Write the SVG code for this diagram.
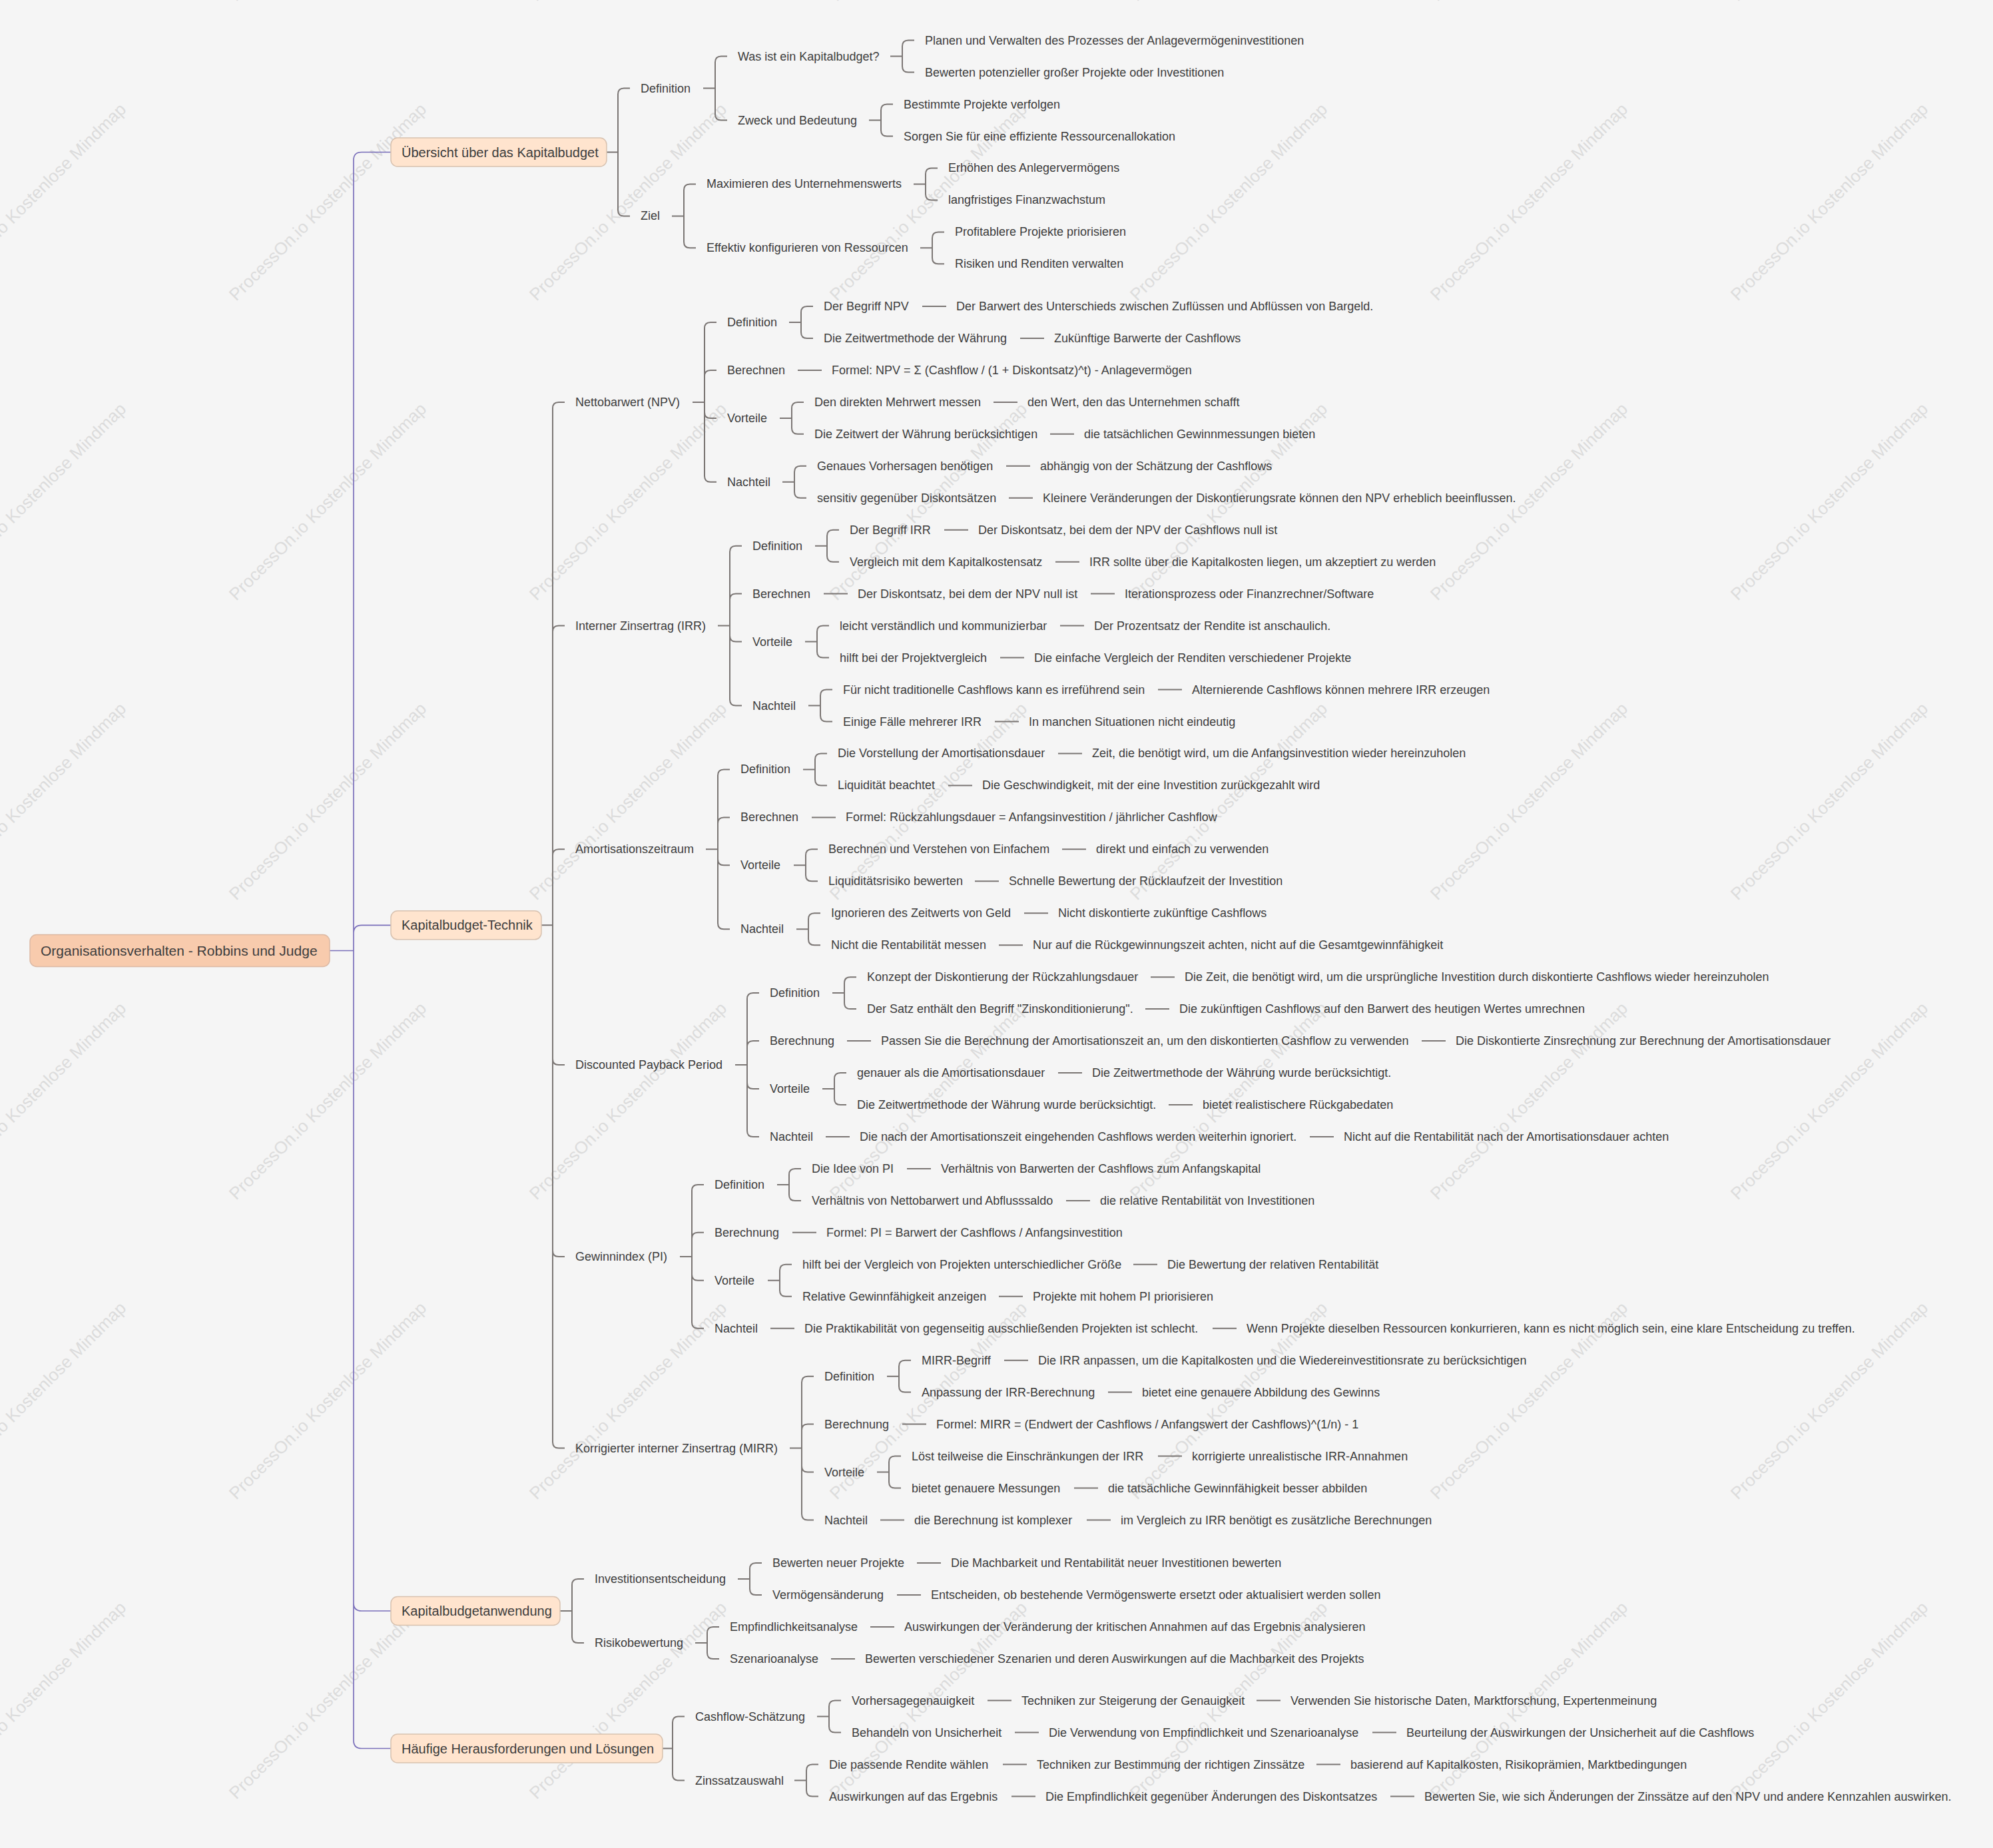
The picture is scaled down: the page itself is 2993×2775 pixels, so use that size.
<svg xmlns="http://www.w3.org/2000/svg" xmlns:xlink="http://www.w3.org/1999/xlink" width="2993" height="2775" viewBox="0 0 2993 2775">
<style>
text{font-family:"Liberation Sans",Arial,sans-serif;font-size:18px;fill:#3d3d3d}
.l1{font-size:20px}
.root{font-size:21px}
.wm{font-size:26px;fill:#dcdcdc}
.c{fill:none;stroke:#7b7674;stroke-width:2}
.p{fill:none;stroke:#7a6fba;stroke-width:1.7}
.b1{fill:#ffe4ce;stroke:#d8c2b0;stroke-width:1.5}
.b0{fill:#f8cbad;stroke:#dcb9a4;stroke-width:1.5}
</style>
<defs>
<text id="wm" class="wm" transform="rotate(-45)" text-anchor="middle" dominant-baseline="central">ProcessOn.io Kostenlose Mindmap</text>
</defs>
<rect x="0" y="0" width="2993" height="2775" fill="#f5f5f5"/>
<g id="watermark">
<use xlink:href="#wm" x="41" y="-147"/><use xlink:href="#wm" x="492" y="-147"/><use xlink:href="#wm" x="943" y="-147"/><use xlink:href="#wm" x="1394" y="-147"/><use xlink:href="#wm" x="1845" y="-147"/><use xlink:href="#wm" x="2296" y="-147"/><use xlink:href="#wm" x="2747" y="-147"/>
<use xlink:href="#wm" x="41" y="303"/><use xlink:href="#wm" x="492" y="303"/><use xlink:href="#wm" x="943" y="303"/><use xlink:href="#wm" x="1394" y="303"/><use xlink:href="#wm" x="1845" y="303"/><use xlink:href="#wm" x="2296" y="303"/><use xlink:href="#wm" x="2747" y="303"/>
<use xlink:href="#wm" x="41" y="753"/><use xlink:href="#wm" x="492" y="753"/><use xlink:href="#wm" x="943" y="753"/><use xlink:href="#wm" x="1394" y="753"/><use xlink:href="#wm" x="1845" y="753"/><use xlink:href="#wm" x="2296" y="753"/><use xlink:href="#wm" x="2747" y="753"/>
<use xlink:href="#wm" x="41" y="1203"/><use xlink:href="#wm" x="492" y="1203"/><use xlink:href="#wm" x="943" y="1203"/><use xlink:href="#wm" x="1394" y="1203"/><use xlink:href="#wm" x="1845" y="1203"/><use xlink:href="#wm" x="2296" y="1203"/><use xlink:href="#wm" x="2747" y="1203"/>
<use xlink:href="#wm" x="41" y="1653"/><use xlink:href="#wm" x="492" y="1653"/><use xlink:href="#wm" x="943" y="1653"/><use xlink:href="#wm" x="1394" y="1653"/><use xlink:href="#wm" x="1845" y="1653"/><use xlink:href="#wm" x="2296" y="1653"/><use xlink:href="#wm" x="2747" y="1653"/>
<use xlink:href="#wm" x="41" y="2103"/><use xlink:href="#wm" x="492" y="2103"/><use xlink:href="#wm" x="943" y="2103"/><use xlink:href="#wm" x="1394" y="2103"/><use xlink:href="#wm" x="1845" y="2103"/><use xlink:href="#wm" x="2296" y="2103"/><use xlink:href="#wm" x="2747" y="2103"/>
<use xlink:href="#wm" x="41" y="2553"/><use xlink:href="#wm" x="492" y="2553"/><use xlink:href="#wm" x="943" y="2553"/><use xlink:href="#wm" x="1394" y="2553"/><use xlink:href="#wm" x="1845" y="2553"/><use xlink:href="#wm" x="2296" y="2553"/><use xlink:href="#wm" x="2747" y="2553"/>
</g>
<g id="connectors">
<path class="p" d="M495 1427.5 H531 M531 1427.5 V240.5 Q531 228.5 543 228.5 H587 M531 1427.5 V1401.3 Q531 1389.3 543 1389.3 H587 M531 1427.5 V2407 Q531 2419 543 2419 H587 M531 1427.5 V2613.5 Q531 2625.5 543 2625.5 H587"/>
<path class="c" d="M911 228.5 H928 M928 228.5 V141.5 Q928 132.5 937 132.5 H946 M928 228.5 V315.4 Q928 324.4 937 324.4 H946
M1056 132.5 H1074 M1074 132.5 V93.6 Q1074 84.6 1083 84.6 H1092 M1074 132.5 V171.5 Q1074 180.5 1083 180.5 H1092
M1337 84.6 H1355 M1355 84.6 V69.6 Q1355 60.6 1364 60.6 H1373 M1355 84.6 V99.6 Q1355 108.6 1364 108.6 H1373
M1305 180.5 H1323 M1323 180.5 V165.5 Q1323 156.5 1332 156.5 H1341 M1323 180.5 V195.5 Q1323 204.5 1332 204.5 H1341
M1009 324.4 H1027 M1027 324.4 V285.4 Q1027 276.4 1036 276.4 H1045 M1027 324.4 V363.3 Q1027 372.3 1036 372.3 H1045
M1372 276.4 H1390 M1390 276.4 V261.4 Q1390 252.4 1399 252.4 H1408 M1390 276.4 V291.4 Q1390 300.4 1399 300.4 H1408
M1382 372.3 H1400 M1400 372.3 V357.4 Q1400 348.4 1409 348.4 H1418 M1400 372.3 V387.3 Q1400 396.3 1409 396.3 H1418"/>
<path class="c" d="M813 1389.3 H830 M830 1389.3 V612.9 Q830 603.9 839 603.9 H848 M830 1389.3 V948.6 Q830 939.6 839 939.6 H848 M830 1389.3 V1284.3 Q830 1275.3 839 1275.3 H848 M830 1389.3 V1590.1 Q830 1599.1 839 1599.1 H848 M830 1389.3 V1877.9 Q830 1886.9 839 1886.9 H848 M830 1389.3 V2165.6 Q830 2174.6 839 2174.6 H848"/>
<path class="c" d="M1040 603.9 H1058 M1058 603.9 V493 Q1058 484 1067 484 H1076 M1058 603.9 V564.9 Q1058 555.9 1067 555.9 H1076 M1058 603.9 V618.9 Q1058 627.9 1067 627.9 H1076 M1058 603.9 V714.8 Q1058 723.8 1067 723.8 H1076
M1185 484 H1203 M1203 484 V469 Q1203 460 1212 460 H1221 M1203 484 V499 Q1203 508 1212 508 H1221
M1385 460 H1421 M1532 508 H1568 M1198 555.9 H1234
M1171 627.9 H1189 M1189 627.9 V612.9 Q1189 603.9 1198 603.9 H1207 M1189 627.9 V642.8 Q1189 651.8 1198 651.8 H1207
M1492 603.9 H1528 M1577 651.8 H1613
M1175 723.8 H1193 M1193 723.8 V708.8 Q1193 699.8 1202 699.8 H1211 M1193 723.8 V738.8 Q1193 747.8 1202 747.8 H1211
M1511 699.8 H1547 M1515 747.8 H1551"/>
<path class="c" d="M1078 939.6 H1096 M1096 939.6 V828.7 Q1096 819.7 1105 819.7 H1114 M1096 939.6 V900.6 Q1096 891.6 1105 891.6 H1114 M1096 939.6 V954.6 Q1096 963.6 1105 963.6 H1114 M1096 939.6 V1050.5 Q1096 1059.5 1105 1059.5 H1114
M1224 819.7 H1242 M1242 819.7 V804.7 Q1242 795.7 1251 795.7 H1260 M1242 819.7 V834.7 Q1242 843.7 1251 843.7 H1260
M1418 795.7 H1454 M1585 843.7 H1621 M1237 891.6 H1273 M1638 891.6 H1674
M1209 963.6 H1227 M1227 963.6 V948.6 Q1227 939.6 1236 939.6 H1245 M1227 963.6 V978.6 Q1227 987.6 1236 987.6 H1245
M1592 939.6 H1628 M1502 987.6 H1538
M1214 1059.5 H1232 M1232 1059.5 V1044.5 Q1232 1035.5 1241 1035.5 H1250 M1232 1059.5 V1074.5 Q1232 1083.5 1241 1083.5 H1250
M1739 1035.5 H1775 M1494 1083.5 H1530"/>
<path class="c" d="M1060 1275.3 H1078 M1078 1275.3 V1164.4 Q1078 1155.4 1087 1155.4 H1096 M1078 1275.3 V1236.4 Q1078 1227.4 1087 1227.4 H1096 M1078 1275.3 V1290.3 Q1078 1299.3 1087 1299.3 H1096 M1078 1275.3 V1386.2 Q1078 1395.2 1087 1395.2 H1096
M1206 1155.4 H1224 M1224 1155.4 V1140.4 Q1224 1131.4 1233 1131.4 H1242 M1224 1155.4 V1170.4 Q1224 1179.4 1233 1179.4 H1242
M1589 1131.4 H1625 M1424 1179.4 H1460 M1219 1227.4 H1255
M1192 1299.3 H1210 M1210 1299.3 V1284.3 Q1210 1275.3 1219 1275.3 H1228 M1210 1299.3 V1314.3 Q1210 1323.3 1219 1323.3 H1228
M1595 1275.3 H1631 M1464 1323.3 H1500
M1196 1395.2 H1214 M1214 1395.2 V1380.2 Q1214 1371.2 1223 1371.2 H1232 M1214 1395.2 V1410.2 Q1214 1419.2 1223 1419.2 H1232
M1538 1371.2 H1574 M1500 1419.2 H1536"/>
<path class="c" d="M1104 1599.1 H1122 M1122 1599.1 V1500.1 Q1122 1491.1 1131 1491.1 H1140 M1122 1599.1 V1572.1 Q1122 1563.1 1131 1563.1 H1140 M1122 1599.1 V1626 Q1122 1635 1131 1635 H1140 M1122 1599.1 V1698 Q1122 1707 1131 1707 H1140
M1250 1491.1 H1268 M1268 1491.1 V1476.2 Q1268 1467.2 1277 1467.2 H1286 M1268 1491.1 V1506.1 Q1268 1515.1 1277 1515.1 H1286
M1728 1467.2 H1764 M1720 1515.1 H1756 M1272 1563.1 H1308 M2135 1563.1 H2171
M1235 1635 H1253 M1253 1635 V1620 Q1253 1611 1262 1611 H1271 M1253 1635 V1650 Q1253 1659 1262 1659 H1271
M1589 1611 H1625 M1755 1659 H1791 M1240 1707 H1276 M1967 1707 H2003"/>
<path class="c" d="M1021 1886.9 H1039 M1039 1886.9 V1787.9 Q1039 1778.9 1048 1778.9 H1057 M1039 1886.9 V1859.8 Q1039 1850.8 1048 1850.8 H1057 M1039 1886.9 V1913.8 Q1039 1922.8 1048 1922.8 H1057 M1039 1886.9 V1985.7 Q1039 1994.7 1048 1994.7 H1057
M1167 1778.9 H1185 M1185 1778.9 V1763.9 Q1185 1754.9 1194 1754.9 H1203 M1185 1778.9 V1793.9 Q1185 1802.9 1194 1802.9 H1203
M1362 1754.9 H1398 M1601 1802.9 H1637 M1190 1850.8 H1226
M1153 1922.8 H1171 M1171 1922.8 V1907.8 Q1171 1898.8 1180 1898.8 H1189 M1171 1922.8 V1937.8 Q1171 1946.8 1180 1946.8 H1189
M1702 1898.8 H1738 M1500 1946.8 H1536 M1157 1994.7 H1193 M1821 1994.7 H1857"/>
<path class="c" d="M1186 2174.6 H1204 M1204 2174.6 V2075.7 Q1204 2066.7 1213 2066.7 H1222 M1204 2174.6 V2147.6 Q1204 2138.6 1213 2138.6 H1222 M1204 2174.6 V2201.5 Q1204 2210.5 1213 2210.5 H1222 M1204 2174.6 V2273.5 Q1204 2282.5 1213 2282.5 H1222
M1332 2066.7 H1350 M1350 2066.7 V2051.7 Q1350 2042.7 1359 2042.7 H1368 M1350 2066.7 V2081.6 Q1350 2090.6 1359 2090.6 H1368
M1508 2042.7 H1544 M1664 2090.6 H1700 M1355 2138.6 H1391
M1317 2210.5 H1335 M1335 2210.5 V2195.6 Q1335 2186.6 1344 2186.6 H1353 M1335 2210.5 V2225.5 Q1335 2234.5 1344 2234.5 H1353
M1739 2186.6 H1775 M1613 2234.5 H1649 M1322 2282.5 H1358 M1632 2282.5 H1668"/>
<path class="c" d="M841 2419 H859 M859 2419 V2380 Q859 2371 868 2371 H877 M859 2419 V2458 Q859 2467 868 2467 H877
M1108 2371 H1126 M1126 2371 V2356 Q1126 2347 1135 2347 H1144 M1126 2371 V2386 Q1126 2395 1135 2395 H1144
M1377 2347 H1413 M1347 2395 H1383
M1044 2467 H1062 M1062 2467 V2452 Q1062 2443 1071 2443 H1080 M1062 2467 V2482 Q1062 2491 1071 2491 H1080
M1307 2443 H1343 M1248 2491 H1284"/>
<path class="c" d="M995 2625.5 H1010 M1010 2625.5 V2586.5 Q1010 2577.5 1019 2577.5 H1028 M1010 2625.5 V2664.5 Q1010 2673.5 1019 2673.5 H1028
M1227 2577.5 H1245 M1245 2577.5 V2562.5 Q1245 2553.5 1254 2553.5 H1263 M1245 2577.5 V2592.5 Q1245 2601.5 1254 2601.5 H1263
M1483 2553.5 H1519 M1887 2553.5 H1923 M1524 2601.5 H1560 M2061 2601.5 H2097
M1193 2673.5 H1211 M1211 2673.5 V2658.5 Q1211 2649.5 1220 2649.5 H1229 M1211 2673.5 V2688.5 Q1211 2697.5 1220 2697.5 H1229
M1506 2649.5 H1542 M1977 2649.5 H2013 M1519 2697.5 H1555 M2088 2697.5 H2124"/>
</g>
<g id="n-root"><rect class="b0" x="45" y="1403.5" width="450" height="48" rx="10"/><text class="root" x="61" y="1435">Organisationsverhalten - Robbins und Judge</text></g>
<g id="n1"><rect class="b1" x="587" y="207" width="324" height="43" rx="10"/><text class="l1" x="603" y="235.5">Übersicht über das Kapitalbudget</text></g>
<g id="n2"><rect class="b1" x="587" y="1367.8" width="226" height="43" rx="10"/><text class="l1" x="603" y="1396.3">Kapitalbudget-Technik</text></g>
<g id="n3"><rect class="b1" x="587" y="2397.5" width="254" height="43" rx="10"/><text class="l1" x="603" y="2426">Kapitalbudgetanwendung</text></g>
<g id="n4"><rect class="b1" x="587" y="2604" width="408" height="43" rx="10"/><text class="l1" x="603" y="2632.5">Häufige Herausforderungen und Lösungen</text></g>
<g id="s1">
<g id="n1-1"><text x="962" y="138.5">Definition</text></g>
<g id="n1-1-1"><text x="1108" y="90.6">Was ist ein Kapitalbudget?</text></g>
<g id="n1-1-1-1"><text x="1389" y="66.6">Planen und Verwalten des Prozesses der Anlagevermögeninvestitionen</text></g>
<g id="n1-1-1-2"><text x="1389" y="114.6">Bewerten potenzieller großer Projekte oder Investitionen</text></g>
<g id="n1-1-2"><text x="1108" y="186.5">Zweck und Bedeutung</text></g>
<g id="n1-1-2-1"><text x="1357" y="162.5">Bestimmte Projekte verfolgen</text></g>
<g id="n1-1-2-2"><text x="1357" y="210.5">Sorgen Sie für eine effiziente Ressourcenallokation</text></g>
<g id="n1-2"><text x="962" y="330.4">Ziel</text></g>
<g id="n1-2-1"><text x="1061" y="282.4">Maximieren des Unternehmenswerts</text></g>
<g id="n1-2-1-1"><text x="1424" y="258.4">Erhöhen des Anlegervermögens</text></g>
<g id="n1-2-1-2"><text x="1424" y="306.4">langfristiges Finanzwachstum</text></g>
<g id="n1-2-2"><text x="1061" y="378.3">Effektiv konfigurieren von Ressourcen</text></g>
<g id="n1-2-2-1"><text x="1434" y="354.4">Profitablere Projekte priorisieren</text></g>
<g id="n1-2-2-2"><text x="1434" y="402.3">Risiken und Renditen verwalten</text></g>
</g>
<g id="s2">
<g id="npv"><text x="864" y="609.9">Nettobarwert (NPV)</text></g>
<g id="npv-def"><text x="1092" y="490">Definition</text></g>
<g id="npv-def-1"><text x="1237" y="466">Der Begriff NPV</text></g>
<g id="npv-def-1a"><text x="1436" y="466">Der Barwert des Unterschieds zwischen Zuflüssen und Abflüssen von Bargeld.</text></g>
<g id="npv-def-2"><text x="1237" y="514">Die Zeitwertmethode der Währung</text></g>
<g id="npv-def-2a"><text x="1583" y="514">Zukünftige Barwerte der Cashflows</text></g>
<g id="npv-calc"><text x="1092" y="561.9">Berechnen</text></g>
<g id="npv-calc-1"><text x="1249" y="561.9">Formel: NPV = Σ (Cashflow / (1 + Diskontsatz)^t) - Anlagevermögen</text></g>
<g id="npv-adv"><text x="1092" y="633.9">Vorteile</text></g>
<g id="npv-adv-1"><text x="1223" y="609.9">Den direkten Mehrwert messen</text></g>
<g id="npv-adv-1a"><text x="1543" y="609.9">den Wert, den das Unternehmen schafft</text></g>
<g id="npv-adv-2"><text x="1223" y="657.8">Die Zeitwert der Währung berücksichtigen</text></g>
<g id="npv-adv-2a"><text x="1628" y="657.8">die tatsächlichen Gewinnmessungen bieten</text></g>
<g id="npv-dis"><text x="1092" y="729.8">Nachteil</text></g>
<g id="npv-dis-1"><text x="1227" y="705.8">Genaues Vorhersagen benötigen</text></g>
<g id="npv-dis-1a"><text x="1562" y="705.8">abhängig von der Schätzung der Cashflows</text></g>
<g id="npv-dis-2"><text x="1227" y="753.8">sensitiv gegenüber Diskontsätzen</text></g>
<g id="npv-dis-2a"><text x="1566" y="753.8">Kleinere Veränderungen der Diskontierungsrate können den NPV erheblich beeinflussen.</text></g>

<g id="irr"><text x="864" y="945.6">Interner Zinsertrag (IRR)</text></g>
<g id="irr-def"><text x="1130" y="825.7">Definition</text></g>
<g id="irr-def-1"><text x="1276" y="801.7">Der Begriff IRR</text></g>
<g id="irr-def-1a"><text x="1469" y="801.7">Der Diskontsatz, bei dem der NPV der Cashflows null ist</text></g>
<g id="irr-def-2"><text x="1276" y="849.7">Vergleich mit dem Kapitalkostensatz</text></g>
<g id="irr-def-2a"><text x="1636" y="849.7">IRR sollte über die Kapitalkosten liegen, um akzeptiert zu werden</text></g>
<g id="irr-calc"><text x="1130" y="897.6">Berechnen</text></g>
<g id="irr-calc-1"><text x="1288" y="897.6">Der Diskontsatz, bei dem der NPV null ist</text></g>
<g id="irr-calc-2"><text x="1689" y="897.6">Iterationsprozess oder Finanzrechner/Software</text></g>
<g id="irr-adv"><text x="1130" y="969.6">Vorteile</text></g>
<g id="irr-adv-1"><text x="1261" y="945.6">leicht verständlich und kommunizierbar</text></g>
<g id="irr-adv-1a"><text x="1643" y="945.6">Der Prozentsatz der Rendite ist anschaulich.</text></g>
<g id="irr-adv-2"><text x="1261" y="993.6">hilft bei der Projektvergleich</text></g>
<g id="irr-adv-2a"><text x="1553" y="993.6">Die einfache Vergleich der Renditen verschiedener Projekte</text></g>
<g id="irr-dis"><text x="1130" y="1065.5">Nachteil</text></g>
<g id="irr-dis-1"><text x="1266" y="1041.5">Für nicht traditionelle Cashflows kann es irreführend sein</text></g>
<g id="irr-dis-1a"><text x="1790" y="1041.5">Alternierende Cashflows können mehrere IRR erzeugen</text></g>
<g id="irr-dis-2"><text x="1266" y="1089.5">Einige Fälle mehrerer IRR</text></g>
<g id="irr-dis-2a"><text x="1545" y="1089.5">In manchen Situationen nicht eindeutig</text></g>

<g id="amo"><text x="864" y="1281.3">Amortisationszeitraum</text></g>
<g id="amo-def"><text x="1112" y="1161.4">Definition</text></g>
<g id="amo-def-1"><text x="1258" y="1137.4">Die Vorstellung der Amortisationsdauer</text></g>
<g id="amo-def-1a"><text x="1640" y="1137.4">Zeit, die benötigt wird, um die Anfangsinvestition wieder hereinzuholen</text></g>
<g id="amo-def-2"><text x="1258" y="1185.4">Liquidität beachtet</text></g>
<g id="amo-def-2a"><text x="1475" y="1185.4">Die Geschwindigkeit, mit der eine Investition zurückgezahlt wird</text></g>
<g id="amo-calc"><text x="1112" y="1233.4">Berechnen</text></g>
<g id="amo-calc-1"><text x="1270" y="1233.4">Formel: Rückzahlungsdauer = Anfangsinvestition / jährlicher Cashflow</text></g>
<g id="amo-adv"><text x="1112" y="1305.3">Vorteile</text></g>
<g id="amo-adv-1"><text x="1244" y="1281.3">Berechnen und Verstehen von Einfachem</text></g>
<g id="amo-adv-1a"><text x="1646" y="1281.3">direkt und einfach zu verwenden</text></g>
<g id="amo-adv-2"><text x="1244" y="1329.3">Liquiditätsrisiko bewerten</text></g>
<g id="amo-adv-2a"><text x="1515" y="1329.3">Schnelle Bewertung der Rücklaufzeit der Investition</text></g>
<g id="amo-dis"><text x="1112" y="1401.2">Nachteil</text></g>
<g id="amo-dis-1"><text x="1248" y="1377.2">Ignorieren des Zeitwerts von Geld</text></g>
<g id="amo-dis-1a"><text x="1589" y="1377.2">Nicht diskontierte zukünftige Cashflows</text></g>
<g id="amo-dis-2"><text x="1248" y="1425.2">Nicht die Rentabilität messen</text></g>
<g id="amo-dis-2a"><text x="1551" y="1425.2">Nur auf die Rückgewinnungszeit achten, nicht auf die Gesamtgewinnfähigkeit</text></g>

<g id="dpp"><text x="864" y="1605.1">Discounted Payback Period</text></g>
<g id="dpp-def"><text x="1156" y="1497.1">Definition</text></g>
<g id="dpp-def-1"><text x="1302" y="1473.2">Konzept der Diskontierung der Rückzahlungsdauer</text></g>
<g id="dpp-def-1a"><text x="1779" y="1473.2">Die Zeit, die benötigt wird, um die ursprüngliche Investition durch diskontierte Cashflows wieder hereinzuholen</text></g>
<g id="dpp-def-2"><text x="1302" y="1521.1">Der Satz enthält den Begriff "Zinskonditionierung".</text></g>
<g id="dpp-def-2a"><text x="1771" y="1521.1">Die zukünftigen Cashflows auf den Barwert des heutigen Wertes umrechnen</text></g>
<g id="dpp-calc"><text x="1156" y="1569.1">Berechnung</text></g>
<g id="dpp-calc-1"><text x="1323" y="1569.1">Passen Sie die Berechnung der Amortisationszeit an, um den diskontierten Cashflow zu verwenden</text></g>
<g id="dpp-calc-2"><text x="2186" y="1569.1">Die Diskontierte Zinsrechnung zur Berechnung der Amortisationsdauer</text></g>
<g id="dpp-adv"><text x="1156" y="1641">Vorteile</text></g>
<g id="dpp-adv-1"><text x="1287" y="1617">genauer als die Amortisationsdauer</text></g>
<g id="dpp-adv-1a"><text x="1640" y="1617">Die Zeitwertmethode der Währung wurde berücksichtigt.</text></g>
<g id="dpp-adv-2"><text x="1287" y="1665">Die Zeitwertmethode der Währung wurde berücksichtigt.</text></g>
<g id="dpp-adv-2a"><text x="1806" y="1665">bietet realistischere Rückgabedaten</text></g>
<g id="dpp-dis"><text x="1156" y="1713">Nachteil</text></g>
<g id="dpp-dis-1"><text x="1291" y="1713">Die nach der Amortisationszeit eingehenden Cashflows werden weiterhin ignoriert.</text></g>
<g id="dpp-dis-2"><text x="2018" y="1713">Nicht auf die Rentabilität nach der Amortisationsdauer achten</text></g>

<g id="pi"><text x="864" y="1892.9">Gewinnindex (PI)</text></g>
<g id="pi-def"><text x="1073" y="1784.9">Definition</text></g>
<g id="pi-def-1"><text x="1219" y="1760.9">Die Idee von PI</text></g>
<g id="pi-def-1a"><text x="1413" y="1760.9">Verhältnis von Barwerten der Cashflows zum Anfangskapital</text></g>
<g id="pi-def-2"><text x="1219" y="1808.9">Verhältnis von Nettobarwert und Abflusssaldo</text></g>
<g id="pi-def-2a"><text x="1652" y="1808.9">die relative Rentabilität von Investitionen</text></g>
<g id="pi-calc"><text x="1073" y="1856.8">Berechnung</text></g>
<g id="pi-calc-1"><text x="1241" y="1856.8">Formel: PI = Barwert der Cashflows / Anfangsinvestition</text></g>
<g id="pi-adv"><text x="1073" y="1928.8">Vorteile</text></g>
<g id="pi-adv-1"><text x="1205" y="1904.8">hilft bei der Vergleich von Projekten unterschiedlicher Größe</text></g>
<g id="pi-adv-1a"><text x="1753" y="1904.8">Die Bewertung der relativen Rentabilität</text></g>
<g id="pi-adv-2"><text x="1205" y="1952.8">Relative Gewinnfähigkeit anzeigen</text></g>
<g id="pi-adv-2a"><text x="1551" y="1952.8">Projekte mit hohem PI priorisieren</text></g>
<g id="pi-dis"><text x="1073" y="2000.7">Nachteil</text></g>
<g id="pi-dis-1"><text x="1208" y="2000.7">Die Praktikabilität von gegenseitig ausschließenden Projekten ist schlecht.</text></g>
<g id="pi-dis-2"><text x="1872" y="2000.7">Wenn Projekte dieselben Ressourcen konkurrieren, kann es nicht möglich sein, eine klare Entscheidung zu treffen.</text></g>

<g id="mirr"><text x="864" y="2180.6">Korrigierter interner Zinsertrag (MIRR)</text></g>
<g id="mirr-def"><text x="1238" y="2072.7">Definition</text></g>
<g id="mirr-def-1"><text x="1384" y="2048.7">MIRR-Begriff</text></g>
<g id="mirr-def-1a"><text x="1559" y="2048.7">Die IRR anpassen, um die Kapitalkosten und die Wiedereinvestitionsrate zu berücksichtigen</text></g>
<g id="mirr-def-2"><text x="1384" y="2096.6">Anpassung der IRR-Berechnung</text></g>
<g id="mirr-def-2a"><text x="1715" y="2096.6">bietet eine genauere Abbildung des Gewinns</text></g>
<g id="mirr-calc"><text x="1238" y="2144.6">Berechnung</text></g>
<g id="mirr-calc-1"><text x="1406" y="2144.6">Formel: MIRR = (Endwert der Cashflows / Anfangswert der Cashflows)^(1/n) - 1</text></g>
<g id="mirr-adv"><text x="1238" y="2216.5">Vorteile</text></g>
<g id="mirr-adv-1"><text x="1369" y="2192.6">Löst teilweise die Einschränkungen der IRR</text></g>
<g id="mirr-adv-1a"><text x="1790" y="2192.6">korrigierte unrealistische IRR-Annahmen</text></g>
<g id="mirr-adv-2"><text x="1369" y="2240.5">bietet genauere Messungen</text></g>
<g id="mirr-adv-2a"><text x="1664" y="2240.5">die tatsächliche Gewinnfähigkeit besser abbilden</text></g>
<g id="mirr-dis"><text x="1238" y="2288.5">Nachteil</text></g>
<g id="mirr-dis-1"><text x="1373" y="2288.5">die Berechnung ist komplexer</text></g>
<g id="mirr-dis-2"><text x="1683" y="2288.5">im Vergleich zu IRR benötigt es zusätzliche Berechnungen</text></g>
</g>
<g id="s3">
<g id="inv"><text x="893" y="2377">Investitionsentscheidung</text></g>
<g id="inv-1"><text x="1160" y="2353">Bewerten neuer Projekte</text></g>
<g id="inv-1a"><text x="1428" y="2353">Die Machbarkeit und Rentabilität neuer Investitionen bewerten</text></g>
<g id="inv-2"><text x="1160" y="2401">Vermögensänderung</text></g>
<g id="inv-2a"><text x="1398" y="2401">Entscheiden, ob bestehende Vermögenswerte ersetzt oder aktualisiert werden sollen</text></g>
<g id="risk"><text x="893" y="2473">Risikobewertung</text></g>
<g id="risk-1"><text x="1096" y="2449">Empfindlichkeitsanalyse</text></g>
<g id="risk-1a"><text x="1358" y="2449">Auswirkungen der Veränderung der kritischen Annahmen auf das Ergebnis analysieren</text></g>
<g id="risk-2"><text x="1096" y="2497">Szenarioanalyse</text></g>
<g id="risk-2a"><text x="1299" y="2497">Bewerten verschiedener Szenarien und deren Auswirkungen auf die Machbarkeit des Projekts</text></g>
</g>
<g id="s4">
<g id="cf"><text x="1044" y="2583.5">Cashflow-Schätzung</text></g>
<g id="cf-1"><text x="1279" y="2559.5">Vorhersagegenauigkeit</text></g>
<g id="cf-1a"><text x="1534" y="2559.5">Techniken zur Steigerung der Genauigkeit</text></g>
<g id="cf-1b"><text x="1938" y="2559.5">Verwenden Sie historische Daten, Marktforschung, Expertenmeinung</text></g>
<g id="cf-2"><text x="1279" y="2607.5">Behandeln von Unsicherheit</text></g>
<g id="cf-2a"><text x="1575" y="2607.5">Die Verwendung von Empfindlichkeit und Szenarioanalyse</text></g>
<g id="cf-2b"><text x="2112" y="2607.5">Beurteilung der Auswirkungen der Unsicherheit auf die Cashflows</text></g>
<g id="zs"><text x="1044" y="2679.5">Zinssatzauswahl</text></g>
<g id="zs-1"><text x="1245" y="2655.5">Die passende Rendite wählen</text></g>
<g id="zs-1a"><text x="1557" y="2655.5">Techniken zur Bestimmung der richtigen Zinssätze</text></g>
<g id="zs-1b"><text x="2028" y="2655.5">basierend auf Kapitalkosten, Risikoprämien, Marktbedingungen</text></g>
<g id="zs-2"><text x="1245" y="2703.5">Auswirkungen auf das Ergebnis</text></g>
<g id="zs-2a"><text x="1570" y="2703.5">Die Empfindlichkeit gegenüber Änderungen des Diskontsatzes</text></g>
<g id="zs-2b"><text x="2139" y="2703.5">Bewerten Sie, wie sich Änderungen der Zinssätze auf den NPV und andere Kennzahlen auswirken.</text></g>
</g>
</svg>
